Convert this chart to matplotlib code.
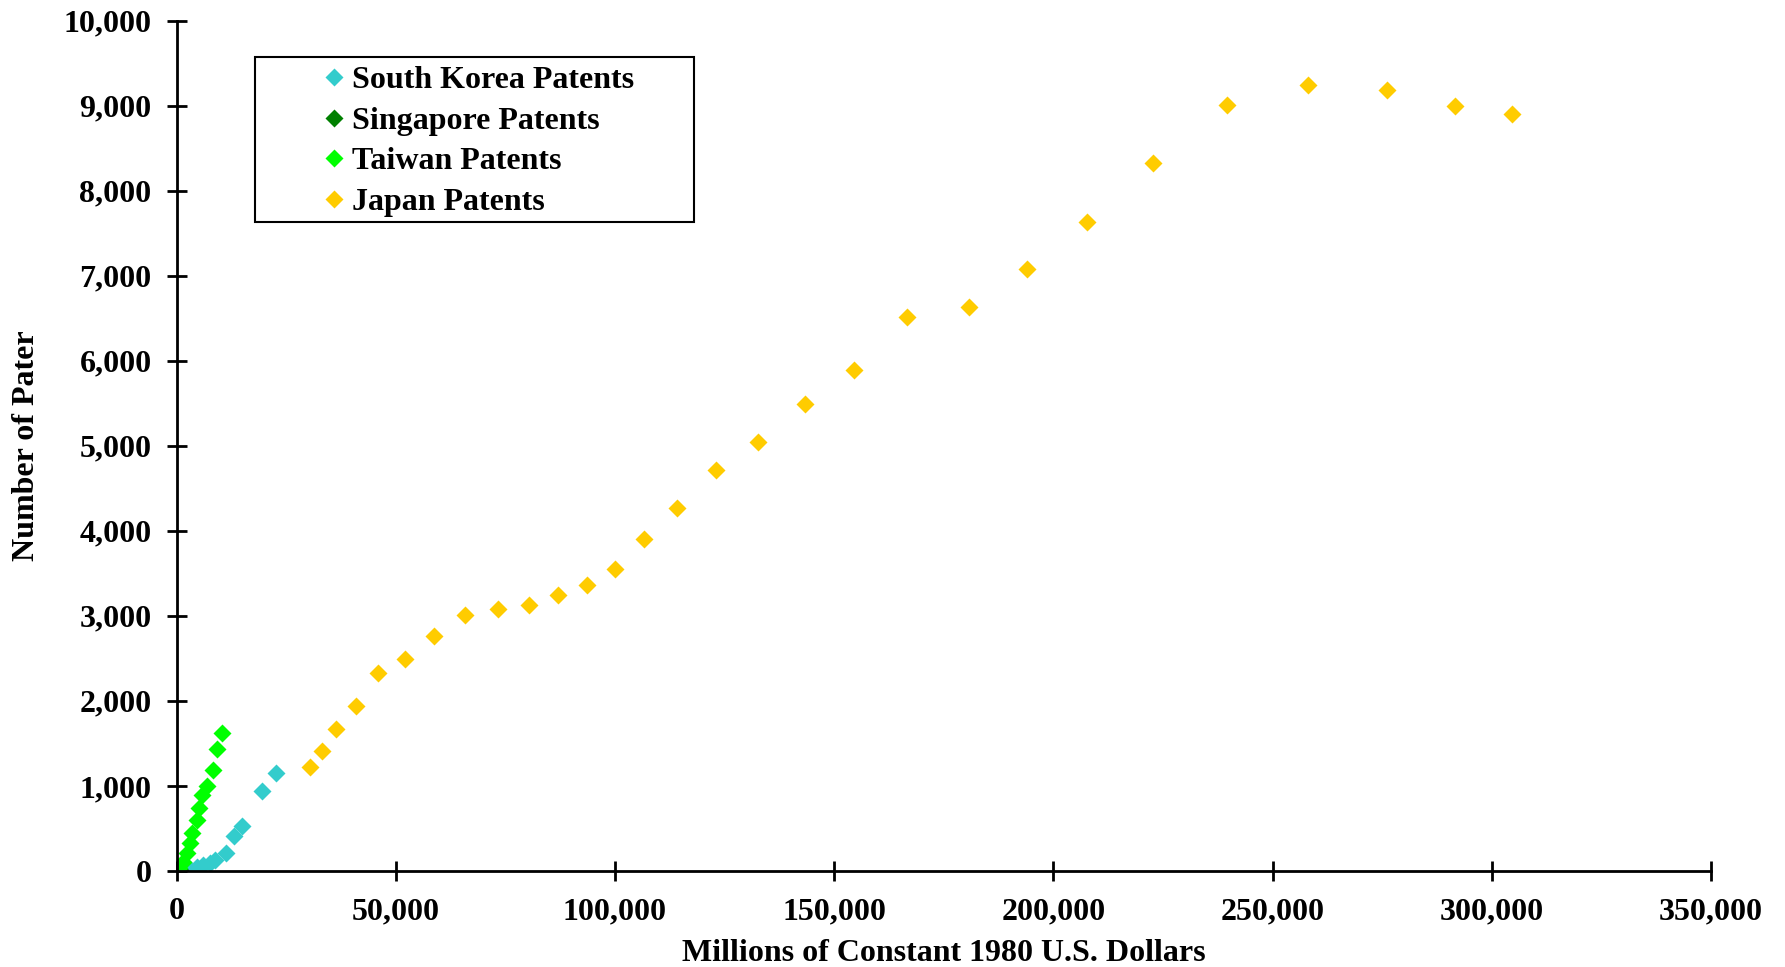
import matplotlib.pyplot as plt
from matplotlib.patches import Rectangle
from matplotlib.ticker import FuncFormatter

# Patents vs. GDP (millions of constant 1980 US dollars)
korea_x = [1560, 3080, 4600, 6120, 7640, 8780, 11290, 13190, 15010, 19580, 22630]
korea_y = [0, 20, 51, 71, 98, 129, 215, 412, 529, 944, 1156]

singapore_x = [100, 300, 500, 800]
singapore_y = [0, 5, 10, 15]

taiwan_x = [640, 1560, 2330, 3080, 3600, 4600, 5200, 5890, 6890, 8400, 9170, 10450]
taiwan_y = [32, 109, 208, 333, 450, 600, 737, 894, 1000, 1188, 1435, 1627]

japan_x = [30380, 33230, 36350, 41020, 45960, 52190, 58680, 65690, 73220, 80490,
           86980, 93730, 99960, 106710, 114240, 123070, 132680, 143320, 154490,
           166690, 180710, 193950, 207720, 222780, 239650, 258090, 276000,
           291580, 304560]
japan_y = [1218, 1406, 1673, 1941, 2329, 2490, 2758, 3012, 3079, 3133, 3240, 3360,
           3548, 3909, 4270, 4712, 5047, 5489, 5890, 6519, 6627, 7082, 7631, 8327,
           9009, 9237, 9183, 8996, 8902]

plt.rcParams['font.family'] = 'Liberation Serif'
plt.rcParams['font.weight'] = 'bold'

fig = plt.figure(figsize=(17.85, 9.67), dpi=100)
ax = fig.add_axes([0.0989, 0.0993, 0.8597, 0.8795])

ms = 9.5
ax.plot(korea_x, korea_y, 'D', color='#33CCCC', ms=ms, mec='none', label='South Korea Patents')
ax.plot(singapore_x, singapore_y, 'D', color='#008000', ms=ms, mec='none', label='Singapore Patents')
ax.plot(taiwan_x, taiwan_y, 'D', color='#00FF00', ms=ms, mec='none', label='Taiwan Patents')
ax.plot(japan_x, japan_y, 'D', color='#FFCC00', ms=ms, mec='none', label='Japan Patents')

ax.set_xlim(0, 350000)
ax.set_ylim(0, 10000)
ax.set_xticks(range(0, 350001, 50000))
ax.set_yticks(range(0, 10001, 1000))
fmt = FuncFormatter(lambda v, p: f'{int(v):,}')
ax.xaxis.set_major_formatter(fmt)
ax.yaxis.set_major_formatter(fmt)

for s in ['top', 'right']:
    ax.spines[s].set_visible(False)
for s in ['left', 'bottom']:
    ax.spines[s].set_linewidth(2)
ax.tick_params(direction='inout', length=14, width=2, labelsize=23)
ax.tick_params(axis='y', pad=11)
ax.tick_params(axis='x', pad=12)

ax.set_xlabel('Millions of Constant 1980 U.S. Dollars', fontsize=23, fontweight='bold', labelpad=9)
ax.set_ylabel('Number of Pater', fontsize=23, fontweight='bold', labelpad=16)

# legend: frameless, box drawn separately to get the wide left margin
leg = fig.legend(loc='upper left', bbox_to_anchor=(0.1797, 0.9318), fontsize=23,
                 frameon=False, handlelength=0.8, handletextpad=0.17,
                 borderpad=0, labelspacing=0.35, borderaxespad=0)
fig.add_artist(Rectangle((0.1429, 0.7704), 0.246, 0.1706, transform=fig.transFigure,
                         fill=False, edgecolor='black', linewidth=1.5))

plt.savefig('out.png', dpi=100)
